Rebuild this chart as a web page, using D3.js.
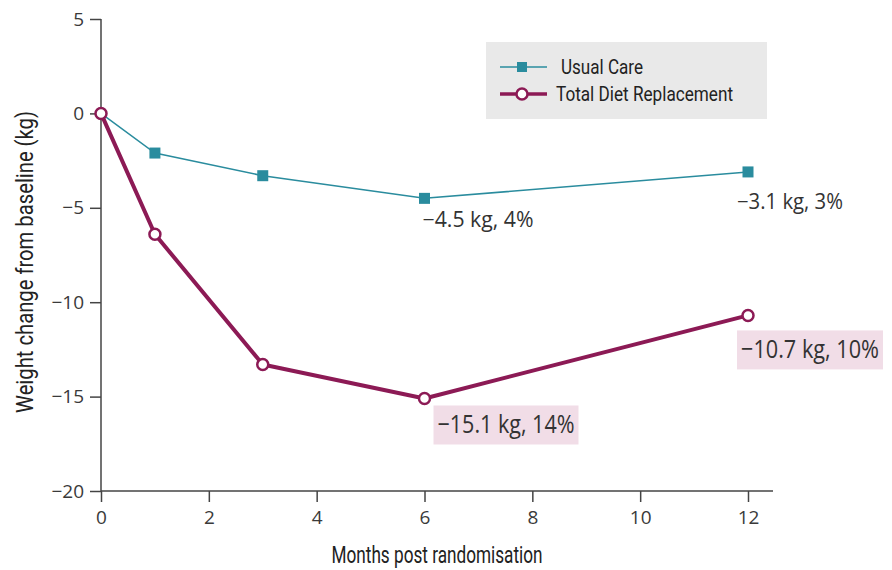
<!DOCTYPE html>
<html>
<head>
<meta charset="utf-8">
<script src="https://cdn.jsdelivr.net/npm/d3@7"></script>
<style>
  body { margin: 0; background: #fff; }
  .cond { font-family: Roboto, "Noto Sans", sans-serif; }
</style>
</head>
<body>
<svg width="892" height="570"></svg>
<script>
const months = [0, 1, 3, 6, 12]
const usualCare = [0, -2.1, -3.3, -4.5, -3.1]
const totalDiet = [0, -6.4, -13.3, -15.1, -10.7]
const xTicks = [0, 2, 4, 6, 8, 10, 12]
const yTicks = [5, 0, -5, -10, -15, -20]
const labels = [
  { month: 6, value: -4.5, text: '\u22124.5 kg, 4%', series: 'uc' },
  { month: 12, value: -3.1, text: '\u22123.1 kg, 3%', series: 'uc' },
  { month: 6, value: -15.1, text: '\u221215.1 kg, 14%', series: 'tdr' },
  { month: 12, value: -10.7, text: '\u221210.7 kg, 10%', series: 'tdr' }
]

const teal = '#2a8c9e'
const maroon = '#8c1a55'
const sans = '"Open Sans", "Noto Sans", sans-serif'

const svg = d3.select('svg')

const x = d3.scaleLinear().domain([0, 12]).range([101, 748])
const y = d3.scaleLinear().domain([-20, 5]).range([491, 19])

// axes
const yAxis = svg.append('g')
  .attr('transform', 'translate(101,0)')
  .call(d3.axisLeft(y).tickValues(yTicks).tickSize(11).tickPadding(6)
    .tickFormat(d => d < 0 ? '\u2212' + Math.abs(d) : d))
yAxis.select('.domain').remove()
svg.append('line').attr('x1', 101).attr('x2', 101).attr('y1', y(5)).attr('y2', y(-20))
  .attr('stroke', '#444').attr('stroke-width', 1.5)

const xAxis = svg.append('g')
  .attr('transform', 'translate(0,491)')
  .call(d3.axisBottom(x).tickValues(xTicks).tickSize(11).tickPadding(9))
xAxis.select('.domain').remove()
svg.append('line').attr('x1', 101).attr('x2', 773).attr('y1', 491).attr('y2', 491)
  .attr('stroke', '#444').attr('stroke-width', 1.5)
svg.selectAll('.tick line').attr('stroke', '#444').attr('stroke-width', 1.5)
svg.selectAll('.tick text').attr('font-family', sans).attr('font-size', 19).attr('fill', '#3a3a3a')

svg.append('text').attr('class', 'cond')
  .attr('transform', 'translate(33,262) rotate(-90)')
  .attr('text-anchor', 'middle').attr('font-size', 24).attr('fill', '#222')
  .attr('textLength', 302).attr('lengthAdjust', 'spacingAndGlyphs')
  .text('Weight change from baseline (kg)')
svg.append('text').attr('class', 'cond')
  .attr('x', 437).attr('y', 563)
  .attr('text-anchor', 'middle').attr('font-size', 23).attr('fill', '#222')
  .attr('textLength', 211).attr('lengthAdjust', 'spacingAndGlyphs')
  .text('Months post randomisation')

// legend
svg.append('rect').attr('x', 486).attr('y', 42).attr('width', 281).attr('height', 77).attr('fill', '#e9e9e9')
svg.append('line').attr('x1', 500).attr('x2', 547).attr('y1', 67).attr('y2', 67).attr('stroke', teal).attr('stroke-width', 1.5)
svg.append('rect').attr('x', 517).attr('y', 62).attr('width', 10).attr('height', 10).attr('fill', teal)
svg.append('line').attr('x1', 500).attr('x2', 547).attr('y1', 94).attr('y2', 94).attr('stroke', maroon).attr('stroke-width', 3.5)
svg.append('circle').attr('cx', 522).attr('cy', 94).attr('r', 5.5).attr('fill', '#fff').attr('stroke', maroon).attr('stroke-width', 2.5)
svg.append('text').attr('class', 'cond').attr('x', 561).attr('y', 74).attr('font-size', 20).attr('fill', '#222')
  .attr('textLength', 82).attr('lengthAdjust', 'spacingAndGlyphs').text('Usual Care')
svg.append('text').attr('class', 'cond').attr('x', 556).attr('y', 101).attr('font-size', 20).attr('fill', '#222')
  .attr('textLength', 177).attr('lengthAdjust', 'spacingAndGlyphs').text('Total Diet Replacement')

// value labels; TDR ones sit on a pink box  -> [x, baseline, font size, width]
const place = l => {
  if (l.series === 'uc') return l.month === 12
    ? [x(l.month) - 11, y(l.value) + 37, 21, 106]
    : [x(l.month) - 2, y(l.value) + 29, 21, 111]
  return l.month === 12
    ? [x(l.month) - 7, y(l.value) + 43, 26, 138]
    : [x(l.month) + 13, y(l.value) + 35, 25, 137]
}
labels.forEach(l => {
  const [tx, ty, fs, len] = place(l)
  if (l.series === 'tdr') {
    svg.append('rect').attr('fill', '#f1dde7')
      .attr('x', tx - 4).attr('y', ty - 28).attr('width', len + 8).attr('height', 39)
  }
  svg.append('text')
    .attr('x', tx).attr('y', ty)
    .attr('font-family', sans).attr('font-size', fs).attr('fill', '#333')
    .attr('textLength', len).attr('lengthAdjust', 'spacingAndGlyphs')
    .text(l.text)
})

const data = (vals) => months.map((m, i) => ({ m, v: vals[i] }))
const line = d3.line().x(d => x(d.m)).y(d => y(d.v))

svg.append('path').datum(data(usualCare)).attr('d', line)
  .attr('fill', 'none').attr('stroke', teal).attr('stroke-width', 1.5)
svg.selectAll('.uc').data(data(usualCare).slice(1)).join('rect').attr('class', 'uc')
  .attr('x', d => x(d.m) - 5.5).attr('y', d => y(d.v) - 5.5).attr('width', 11).attr('height', 11).attr('fill', teal)

svg.append('path').datum(data(totalDiet)).attr('d', line)
  .attr('fill', 'none').attr('stroke', maroon).attr('stroke-width', 4).attr('stroke-linejoin', 'round')
svg.selectAll('.tdr').data(data(totalDiet)).join('circle').attr('class', 'tdr')
  .attr('cx', d => x(d.m)).attr('cy', d => y(d.v)).attr('r', 5.5)
  .attr('fill', '#fff').attr('stroke', maroon).attr('stroke-width', 2.5)
</script>
</body>
</html>
